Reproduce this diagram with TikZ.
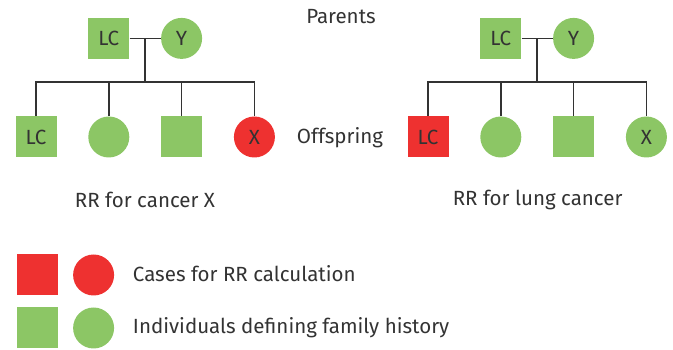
\documentclass[tikz,border=0pt]{standalone}
\usepackage{fontspec}
\setmainfont{Fira Sans}
\usetikzlibrary{calc}
\definecolor{histgreen}{HTML}{8CC665}
\definecolor{casered}{HTML}{EE3130}
\definecolor{inkgray}{HTML}{333333}

\begin{document}
\begin{tikzpicture}[
        male/.style={rectangle, fill=histgreen, minimum size=1.025cm, inner sep=0pt},
        female/.style={circle, fill=histgreen, minimum size=1.025cm, inner sep=0pt},
        case/.style={fill=casered},
        tie/.style={inkgray, line width=1.1pt},
        every node/.style={text=inkgray, font=\fontsize{14.6}{17}\selectfont},
    ]
    \useasboundingbox (0,0) rectangle (16.825,8.75);

    % family for cancer X
    \node[male] at (2.72,7.79) (lcA) {LC};
    \node[female] at (4.54,7.79) (yA) {Y};
    \node[male] at (0.9,5.325) (a1) {LC};
    \node[female] at (2.72,5.325) (a2) {};
    \node[male] at (4.54,5.325) (a3) {};
    \node[female,case] at (6.36,5.325) (a4) {X};

    \draw[tie] (lcA) -- (yA);
    \coordinate (famA) at ($(lcA)!0.5!(yA)$);
    \path (famA) ++(0,-1.09) coordinate (sibA);
    \draw[tie] (famA) -- (sibA);
    \draw[tie] (sibA) -| (a1);
    \draw[tie] (sibA) -| (a2);
    \draw[tie] (sibA) -| (a3);
    \draw[tie] (sibA) -| (a4);

    % family for lung cancer
    \node[male] at (12.52,7.79) (lcB) {LC};
    \node[female] at (14.34,7.79) (yB) {Y};
    \node[male,case] at (10.7,5.325) (b1) {LC};
    \node[female] at (12.52,5.325) (b2) {};
    \node[male] at (14.34,5.325) (b3) {};
    \node[female] at (16.16,5.325) (b4) {X};

    \draw[tie] (lcB) -- (yB);
    \coordinate (famB) at ($(lcB)!0.5!(yB)$);
    \path (famB) ++(0,-1.09) coordinate (sibB);
    \draw[tie] (famB) -- (sibB);
    \draw[tie] (sibB) -| (b1);
    \draw[tie] (sibB) -| (b2);
    \draw[tie] (sibB) -| (b3);
    \draw[tie] (sibB) -| (b4);

    \node at (8.525,8.325) (parents) {Parents};
    \node at (8.5,5.3) (offspring) {Offspring};
    \node at (3.625,3.75) (rrA) {RR for cancer X};
    \node at (13.44,3.75) (rrB) {RR for lung cancer};

    % key
    \node[male,case] at (0.94,1.875) (keyA1) {};
    \node[female,case] at (2.34,1.875) (keyA2) {};
    \node[male] at (0.94,0.55) (keyB1) {};
    \node[female] at (2.34,0.55) (keyB2) {};
    \node[right] at (3.2,1.9) (keyA) {Cases for RR calculation};
    \node[right] at (3.2,0.55) (keyB) {Individuals defining family history};

\end{tikzpicture}
\end{document}
